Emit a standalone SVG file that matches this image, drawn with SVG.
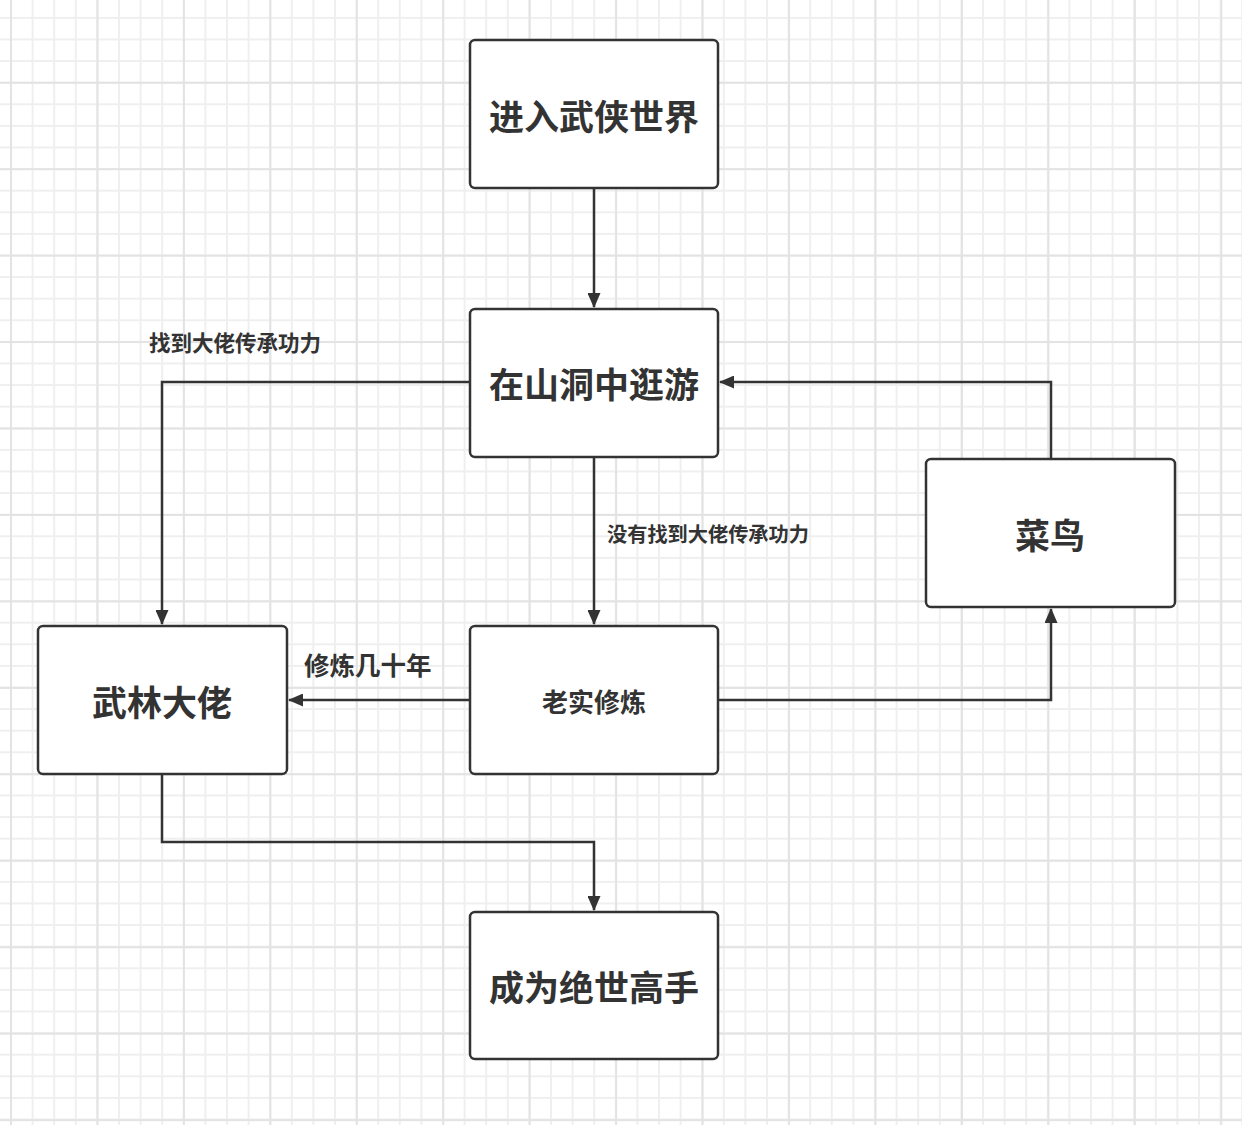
<svg xmlns="http://www.w3.org/2000/svg" width="1242" height="1125" viewBox="0 0 1242 1125">
<defs>
<pattern id="minor" patternUnits="userSpaceOnUse" x="10" y="-4.7" width="21.6" height="21.6">
<path d="M1 0V21.6M0 1H21.6" fill="none" stroke="#efefef" stroke-width="2"/>
</pattern>
<pattern id="major" patternUnits="userSpaceOnUse" x="10" y="-4.7" width="86.45" height="86.45">
<path d="M1 0V86.45M0 1H86.45" fill="none" stroke="#e3e3e3" stroke-width="2"/>
</pattern>
<marker id="arr" viewBox="0 0 15 13" refX="14" refY="6.5" markerWidth="15" markerHeight="13" markerUnits="userSpaceOnUse" orient="auto">
<path d="M0 0L15 6.5L0 13Z" fill="#333"/>
</marker>
<style>
.box{fill:#fff;stroke:#333;stroke-width:2.5}
.t{font-family:"Noto Sans CJK SC","Noto Sans",sans-serif;font-weight:bold;fill:#333;text-anchor:middle;dominant-baseline:central}
.big{font-size:35px}
.mid{font-size:26px}
.lbl{font-family:"Noto Sans CJK SC","Noto Sans",sans-serif;font-weight:bold;fill:#333;dominant-baseline:central}
.c{fill:none;stroke:#333;stroke-width:2.5}
</style>
</defs>
<rect width="1242" height="1125" fill="#fff"/>
<rect width="1242" height="1125" fill="url(#minor)"/>
<rect width="1242" height="1125" fill="url(#major)"/>
<g id="connectors">
<path class="c" d="M594 188V307" marker-end="url(#arr)"/>
<path class="c" d="M470 382H162V624" marker-end="url(#arr)"/>
<path class="c" d="M594 457V624" marker-end="url(#arr)"/>
<path class="c" d="M470 700H289" marker-end="url(#arr)"/>
<path class="c" d="M718 700H1051V609" marker-end="url(#arr)"/>
<path class="c" d="M1051 459V382H720" marker-end="url(#arr)"/>
<path class="c" d="M162 774V842H594V910" marker-end="url(#arr)"/>
<text class="lbl" x="149" y="341" font-size="21.5">找到大佬传承功力</text>
<text class="lbl" x="607" y="533" font-size="20.2">没有找到大佬传承功力</text>
<text class="lbl" x="304" y="663" font-size="25.5">修炼几十年</text>
</g>
<g id="n1"><rect class="box" x="470" y="40" width="248" height="148" rx="5"/><text class="t big" x="594" y="114">进入武侠世界</text></g>
<g id="n2"><rect class="box" x="470" y="309" width="248" height="148" rx="5"/><text class="t big" x="594" y="382">在山洞中逛游</text></g>
<g id="n3"><rect class="box" x="470" y="626" width="248" height="148" rx="5"/><text class="t mid" x="594" y="700">老实修炼</text></g>
<g id="n4"><rect class="box" x="38" y="626" width="249" height="148" rx="5"/><text class="t big" x="162" y="700">武林大佬</text></g>
<g id="n5"><rect class="box" x="926" y="459" width="249" height="148" rx="5"/><text class="t big" x="1050" y="533">菜鸟</text></g>
<g id="n6"><rect class="box" x="470" y="912" width="248" height="147" rx="5"/><text class="t big" x="594" y="985">成为绝世高手</text></g>
</svg>
